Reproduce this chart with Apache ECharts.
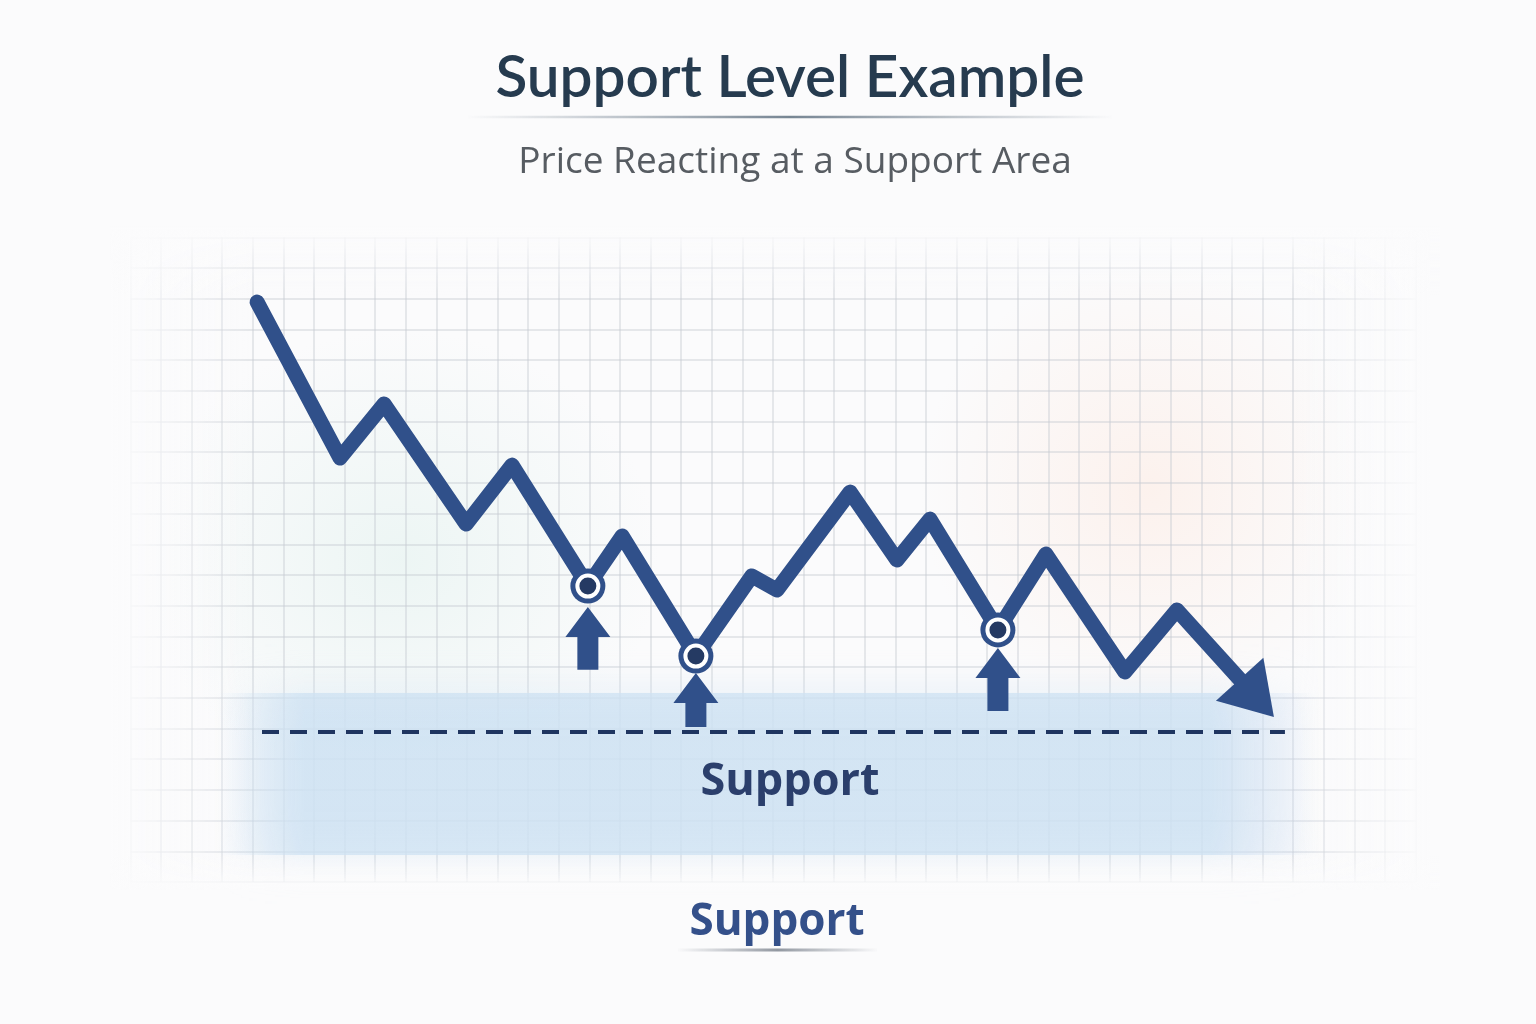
<!DOCTYPE html>
<html><head><meta charset="utf-8">
<script src="https://cdn.jsdelivr.net/npm/echarts@6/dist/echarts.min.js"></script>
<style>
html,body{margin:0;padding:0;}
body{background:
 radial-gradient(ellipse 260px 230px at 400px 560px, rgba(222,240,236,0.5), rgba(222,240,236,0) 100%),
 radial-gradient(ellipse 230px 230px at 1150px 490px, rgba(253,232,222,0.5), rgba(253,232,222,0) 100%),
 #fbfbfc;}
#c{width:1536px;height:1024px}
</style>
</head><body><div id="c"></div>
<script>
// ---- data (axis units: x = time step, y = price) ----
const priceX = [4.14, 6.85, 8.29, 10.97, 12.47, 14.95, 16.07, 18.48, 20.31, 21.13, 23.52, 25.05, 26.13, 28.35, 29.92, 32.50, 34.20, 36.81];
const priceY = [18.89, 13.81, 15.57, 11.66, 13.58, 9.64, 11.27, 7.36, 9.97, 9.51, 12.70, 10.49, 11.82, 8.21, 10.68, 6.84, 8.86, 5.99];
const touchX = [14.95, 18.48, 28.35];
const touchY = [9.64, 7.36, 8.21];
const arrowTipY = [8.96, 6.81, 7.62];
const arrowBaseY = [6.91, 5.05, 5.57];
const supportLevel = 4.886;
const supportRange = [4.3, 37.73];
const zoneY = [6.16, 0.88];
const zoneX = [2.8, 38.9];
const titleText = 'Support Level Example';
const subtitleText = 'Price Reacting at a Support Area';
const zoneLabel = 'Support';
const footLabel = 'Support';

const LINE = '#30508a';
const BG = '#fbfbfc';

const pricePts = priceX.map((x, i) => [x, priceY[i]]);
const touchPts = touchX.map((x, i) => [x, touchY[i]]);
const arrowPts = touchX.map((x, i) => [x, arrowTipY[i], arrowBaseY[i]]);
const lastPt = pricePts[pricePts.length - 1];

const chart = echarts.init(document.getElementById('c'), null, {renderer: 'canvas'});

function fade(x, y, w, h, x2, y2, fromOpaque) {
  const c0 = fromOpaque ? BG : 'rgba(251,251,252,0)';
  const c1 = fromOpaque ? 'rgba(251,251,252,0)' : BG;
  return {type: 'rect', z: 2, silent: true, shape: {x, y, width: w, height: h},
    style: {fill: new echarts.graphic.LinearGradient(0, 0, x2, y2, [{offset: 0, color: c0}, {offset: 1, color: c1}])}};
}

chart.setOption({
  animation: false,
  title: [
    {text: titleText, left: 785, textAlign: 'center', top: 41, textStyle: {fontFamily: 'Lato', fontWeight: 600, fontSize: 58.5, color: '#263b4f', lineHeight: 64}},
    {text: subtitleText, left: 790, textAlign: 'center', top: 134, textStyle: {fontFamily: 'Open Sans', fontWeight: 400, fontSize: 37, color: '#575c62', lineHeight: 46}}
  ],
  grid: {left: 130.4, top: 237.3, width: 1285.2, height: 644.7},
  xAxis: {type: 'value', min: 0, max: 42, interval: 1, z: 0,
    axisLine: {show: false}, axisTick: {show: false}, axisLabel: {show: false},
    splitLine: {show: true, lineStyle: {color: 'rgba(196,202,210,0.55)', width: 1.5}}},
  yAxis: {type: 'value', min: 0, max: 21, interval: 1, z: 0,
    axisLine: {show: false}, axisTick: {show: false}, axisLabel: {show: false},
    splitLine: {show: true, lineStyle: {color: 'rgba(196,202,210,0.55)', width: 1.5}}},
  graphic: [
    fade(110, 230, 140, 660, 1, 0, true),
    fade(1290, 230, 140, 660, 1, 0, false),
    fade(110, 225, 1330, 70, 0, 1, true),
    fade(110, 856, 1330, 34, 0, 1, false),
    {type: 'line', z: 3, silent: true, shape: {x1: 468, y1: 117, x2: 1112, y2: 117},
      style: {lineWidth: 2.5, stroke: new echarts.graphic.LinearGradient(0, 0, 1, 0, [
        {offset: 0, color: 'rgba(110,125,140,0)'}, {offset: 0.5, color: 'rgba(95,112,128,0.85)'}, {offset: 1, color: 'rgba(110,125,140,0)'}])}},
    {type: 'text', z: 8, silent: true, style: {text: zoneLabel, x: 790, y: 782, align: 'center', verticalAlign: 'middle',
      fontFamily: 'Open Sans', fontWeight: 700, fontSize: 45, fill: '#2b3f6c'}},
    {type: 'text', z: 8, silent: true, style: {text: footLabel, x: 777, y: 922, align: 'center', verticalAlign: 'middle',
      fontFamily: 'Open Sans', fontWeight: 700, fontSize: 44, fill: '#34508a'}},
    {type: 'line', z: 3, silent: true, shape: {x1: 678, y1: 950, x2: 877, y2: 950},
      style: {lineWidth: 3, stroke: new echarts.graphic.LinearGradient(0, 0, 1, 0, [
        {offset: 0, color: 'rgba(120,128,140,0)'}, {offset: 0.5, color: 'rgba(110,118,130,0.75)'}, {offset: 1, color: 'rgba(120,128,140,0)'}])}}
  ],
  series: [
    {name: 'support', type: 'line', z: 1, symbol: 'none', silent: true,
      data: [[supportRange[0], supportLevel], [supportRange[1], supportLevel]],
      lineStyle: {width: 0},
      markArea: {silent: true,
        itemStyle: {color: new echarts.graphic.LinearGradient(0, 0, 1, 0, [
            {offset: 0, color: 'rgba(205,225,242,0)'}, {offset: 0.08, color: 'rgba(205,225,242,0.75)'},
            {offset: 0.9, color: 'rgba(205,225,242,0.75)'}, {offset: 1, color: 'rgba(210,222,242,0)'}]),
          shadowBlur: 40, shadowColor: 'rgba(205,225,242,0.6)'},
        data: [[{xAxis: zoneX[0], yAxis: zoneY[0]}, {xAxis: zoneX[1], yAxis: zoneY[1]}]]}},
    {name: 'supportLine', type: 'line', z: 4, symbol: 'none', silent: true,
      data: [[supportRange[0], supportLevel], [supportRange[1], supportLevel]],
      lineStyle: {width: 4, color: '#1f3560', type: [17, 11]}},
    {name: 'price', type: 'line', z: 6, symbol: 'none', silent: true,
      data: pricePts,
      lineStyle: {width: 15, color: LINE, cap: 'round', join: 'round'}},
    {name: 'trendHead', type: 'scatter', z: 7, silent: true,
      data: [lastPt], symbol: 'triangle', symbolSize: [64, 51], symbolRotate: -137.8,
      itemStyle: {color: LINE, opacity: 1}},
    {name: 'touchOuter', type: 'scatter', z: 8, silent: true,
      data: touchPts, symbol: 'circle', symbolSize: 35, itemStyle: {color: LINE, opacity: 1}},
    {name: 'touchInner', type: 'scatter', z: 9, silent: true,
      data: touchPts, symbol: 'circle', symbolSize: 21,
      itemStyle: {color: '#253a63', borderColor: '#ffffff', borderWidth: 4, opacity: 1}},
    {name: 'bounce', type: 'custom', z: 7, silent: true,
      data: arrowPts,
      renderItem: function (params, api) {
        const x = api.value(0);
        const tip = api.coord([x, api.value(1)]);
        const base = api.coord([x, api.value(2)]);
        const hw = 22.5, sw = 10.5, hh = 30;
        const cx = tip[0], ty = tip[1];
        return {type: 'polygon', shape: {points: [
          [cx, ty], [cx + hw, ty + hh], [cx + sw, ty + hh], [cx + sw, base[1]],
          [cx - sw, base[1]], [cx - sw, ty + hh], [cx - hw, ty + hh]]},
          style: {fill: LINE}};
      }}
  ]
});
</script>
</body></html>
